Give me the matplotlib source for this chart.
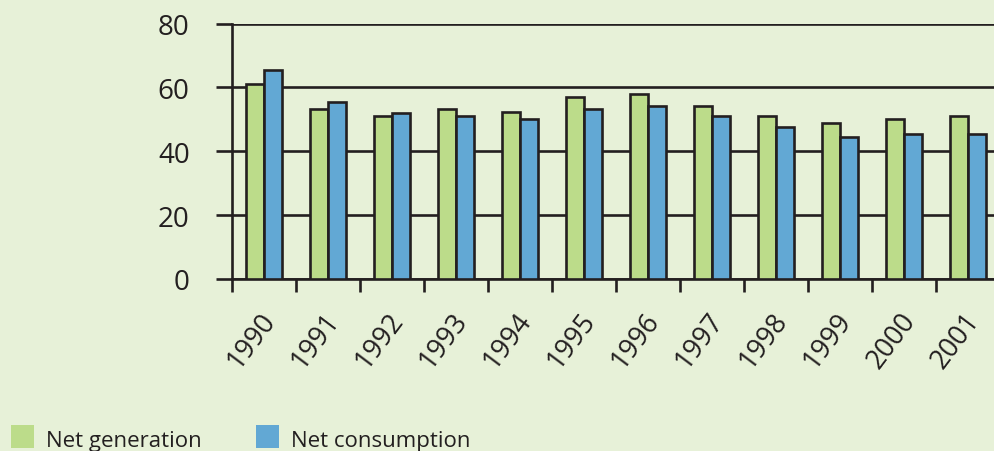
import numpy as np
import matplotlib
matplotlib.use('Agg')
import matplotlib.pyplot as plt
import matplotlib.transforms as mtransforms
from matplotlib.patches import Rectangle

plt.rcParams['font.family'] = ['Open Sans', 'DejaVu Sans']

years = ['1990', '1991', '1992', '1993', '1994', '1995',
         '1996', '1997', '1998', '1999', '2000', '2001']
net_generation = [61.0, 53.1, 51.0, 53.1, 52.3, 56.9, 57.9, 54.2, 51.0, 48.7, 50.0, 51.0]
net_consumption = [65.4, 55.4, 52.1, 51.0, 50.0, 53.1, 54.2, 51.0, 47.6, 44.5, 45.5, 45.5]
y_ticks = [0, 20, 40, 60, 80]
legend_labels = ['Net generation', 'Net consumption']

bg = '#e7f1d8'
ink = '#231f20'
green = '#bcdc8a'
blue = '#62a8d4'
lw = 1.9

W, H = 995, 452
fig = plt.figure(figsize=(W / 100, H / 100), dpi=100, facecolor=bg)
ax = fig.add_axes([232 / W, (H - 280) / H, (1000 - 232) / W, (280 - 24.5) / H])
ax.set_facecolor(bg)

x = np.arange(len(years))
w = 0.285
ax.bar(x - w / 2, net_generation, w, color=green, edgecolor=ink, linewidth=lw, zorder=3)
ax.bar(x + w / 2, net_consumption, w, color=blue, edgecolor=ink, linewidth=lw, zorder=3)

ax.set_xlim(-0.5, len(years) - 0.5)
ax.set_ylim(0, 80)
ax.set_yticks(y_ticks)
ax.set_yticklabels([str(v) for v in y_ticks], fontsize=20, color=ink)
ax.yaxis.grid(True, color=ink, linewidth=lw, zorder=1)
ax.set_axisbelow(True)

# ticks on category boundaries, labels at centers
ax.set_xticks(np.arange(len(years) + 1) - 0.5)
ax.set_xticklabels([])
ax.set_xticks(x, minor=True)
ax.set_xticklabels(years, minor=True, rotation=53, ha='right', va='center',
                   rotation_mode='anchor', fontsize=19.5, color=ink)
ax.tick_params(axis='x', which='minor', length=0, pad=26)
ax.tick_params(axis='x', which='major', length=9, width=lw, color=ink, direction='out')
ax.tick_params(axis='y', length=11.5, width=lw, color=ink, direction='out', pad=19)

for s in ['top', 'right']:
    ax.spines[s].set_visible(False)
for s in ['left', 'bottom']:
    ax.spines[s].set_color(ink)
    ax.spines[s].set_linewidth(lw)

offset = mtransforms.ScaledTranslation(6 / 100, 0, fig.dpi_scale_trans)
for lab in ax.get_xticklabels(minor=True):
    lab.set_transform(lab.get_transform() + offset)

# legend at the bottom left
for (x0, x1), col, lab in zip([(11, 46), (256, 291)], [green, blue], legend_labels):
    fig.patches.append(Rectangle((x0 / W, (H - 449) / H), 23 / W, 23 / H,
                                 transform=fig.transFigure, facecolor=col, edgecolor='none'))
    fig.text(x1 / W, (H - 447) / H, lab, fontsize=16, color=ink, ha='left', va='baseline')

fig.savefig('out.png', dpi=100, facecolor=bg)
